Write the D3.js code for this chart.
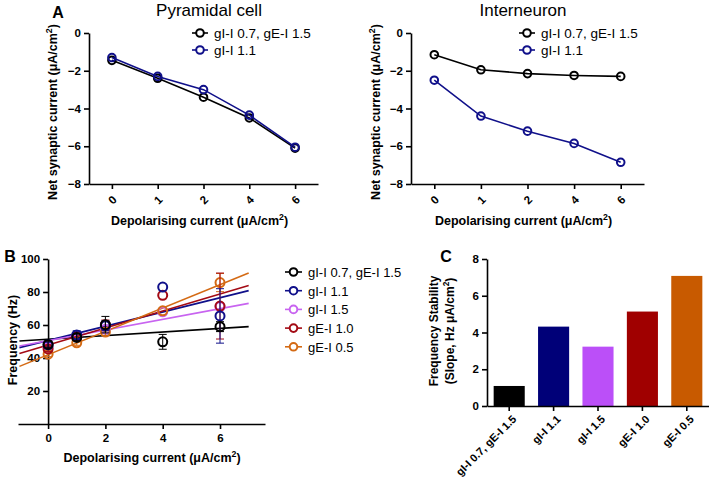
<!DOCTYPE html>
<html>
<head>
<meta charset="utf-8">
<script src="https://cdn.jsdelivr.net/npm/d3@7"></script>
<style>
  body { margin: 0; background: #fff; }
  svg { font-family: "Liberation Sans", Arial, sans-serif; }
  .tick text { font-weight: bold; }
</style>
</head>
<body>
<svg id="canvas" width="709" height="479"></svg>
<script>
// panel A data
let currentCats = ['0', '1', '2', '4', '6']
let seriesNames = ['gI-I 0.7, gE-I 1.5', 'gI-I 1.1', 'gI-I 1.5', 'gE-I 1.0', 'gE-I 0.5']
let pyramidalBlack = [-1.45, -2.4, -3.4, -4.5, -6.1]
let pyramidalBlue = [-1.3, -2.3, -3.0, -4.35, -6.05]
let interBlack = [-1.15, -1.95, -2.15, -2.25, -2.3]
let interBlue = [-2.5, -4.4, -5.2, -5.85, -6.85]

// panel B data
let depolX = [0, 1, 2, 4, 6]
let freqBlack = [48.2, 52.5, 60.2, 49.8, 59]
let freqBlue = [48, 54, 59.5, 83, 65.5]
let freqPink = [46.5, 53, 57.5, 68, 71]
let freqRed = [45.5, 53, 60, 78, 71.5]
let freqOrange = [42.3, 49.2, 55.7, 68.6, 85.7]
let errBlack = [2, 2, 5, 4.5, 3]
let errBlue = [1.5, 2.5, 3, 0, 16.5]
let errPink = [0, 0, 0, 0, 0]
let errRed = [1.5, 2, 3, 0, 20]
let errOrange = [1.5, 1.5, 2, 0, 5.5]
let fitIntercept = [51.4, 50.6, 50.5, 47.9, 42]
let fitRange = [-1, 7]

// panel C data (slopes)
let slopes = [1.09, 4.32, 3.23, 5.14, 7.08]

let black = '#000000'
let blue = '#10108a'
let pink = '#c864f0'
let red = '#a30a14'
let orange = '#d46a14'
let barColors = ['#000000', '#000078', '#bb4ff8', '#a00000', '#c85a00']

let canvas = d3.select('#canvas')

let addText = (g, x, y, txt, size, opts) => {
  opts = opts || {}
  let t = g.append('text')
    .attr('x', x).attr('y', y)
    .attr('font-size', size)
    .attr('font-weight', opts.bold ? 'bold' : 'normal')
    .attr('text-anchor', opts.anchor || 'middle')
    .attr('fill', '#000')
  if (txt) t.text(txt)
  if (opts.rotate) t.attr('transform', 'rotate(' + opts.rotate + ',' + x + ',' + y + ')')
  return t
}

let unitLabel = (t, before) => {
  t.append('tspan').text(before + '(μA/cm')
  t.append('tspan').attr('baseline-shift', 'super').attr('font-size', '0.7em').text('2')
  t.append('tspan').text(')')
}

let styleAxis = (g) => {
  g.selectAll('path, line').attr('stroke', '#000').attr('stroke-width', 1.6)
  g.selectAll('text').attr('font-size', 11.5).attr('font-family', null)
}

let drawPanelA = (left, right, title, titleX, blackVals, blueVals, legendX, yLabelX) => {
  let g = canvas.append('g')
  let x = d3.scalePoint().domain(currentCats).range([left, right]).padding(0.5)
  let y = d3.scaleLinear().domain([-8, 0]).range([184, 33])

  let yAxis = g.append('g').attr('transform', 'translate(' + left + ',0)')
    .call(d3.axisLeft(y).tickValues([0, -2, -4, -6, -8]).tickSize(5).tickSizeOuter(0))
  styleAxis(yAxis)

  let xAxis = g.append('g').attr('transform', 'translate(0,184)')
    .call(d3.axisBottom(x).tickSize(5).tickSizeOuter(0))
  styleAxis(xAxis)
  xAxis.selectAll('.tick text')
    .attr('y', 0).attr('dy', 0)
    .attr('transform', 'translate(0,16) rotate(-45)')
    .attr('text-anchor', 'middle')
    .attr('dominant-baseline', 'central')

  addText(g, titleX, 16, title, 17)

  let series = [[blackVals, black], [blueVals, blue]]
  series.forEach((s) => {
    let line = d3.line().x((d, i) => x(currentCats[i])).y((d) => y(d))
    g.append('path').attr('d', line(s[0])).attr('fill', 'none')
      .attr('stroke', s[1]).attr('stroke-width', 1.6)
    g.selectAll(null).data(s[0]).enter().append('circle')
      .attr('cx', (d, i) => x(currentCats[i])).attr('cy', (d) => y(d))
      .attr('r', 3.8).attr('fill', 'none').attr('stroke', s[1]).attr('stroke-width', 2)
  })

  // legend
  series.forEach((s, i) => {
    let ly = 33 + i * 17
    g.append('line').attr('x1', legendX - 8).attr('x2', legendX + 8)
      .attr('y1', ly).attr('y2', ly).attr('stroke', s[1]).attr('stroke-width', 1.6)
    g.append('circle').attr('cx', legendX).attr('cy', ly).attr('r', 3.8)
      .attr('fill', '#fff').attr('stroke', s[1]).attr('stroke-width', 2)
    addText(g, legendX + 14, ly + 5, seriesNames[i], 13.5, { anchor: 'start' })
  })

  let yl = addText(g, yLabelX, 112, '', 12.5, { bold: true, rotate: -90 })
  unitLabel(yl, 'Net synaptic current ')
  let xl = addText(g, (left + right) / 2 - 4, 225, '', 12.5, { bold: true })
  unitLabel(xl, 'Depolarising current ')
}

drawPanelA(89, 318, 'Pyramidal cell', 209, pyramidalBlack, pyramidalBlue, 200, 57)
drawPanelA(411, 644, 'Interneuron', 523, interBlack, interBlue, 527, 380)
addText(canvas, 58, 18, 'A', 16, { bold: true })

// panel B
let drawPanelB = () => {
  let g = canvas.append('g')
  let x = d3.scaleLinear().domain([-1.05, 7.57]).range([18, 265])
  let y = d3.scaleLinear().domain([0, 100]).range([424, 259])

  let xAxis = g.append('g').attr('transform', 'translate(0,424)')
    .call(d3.axisBottom(x).tickValues([0, 2, 4, 6]).tickSize(5).tickSizeOuter(0))
  styleAxis(xAxis)
  xAxis.selectAll('.tick text').attr('y', 10)

  let yAxis = g.append('g').attr('transform', 'translate(' + x(0) + ',0)')
    .call(d3.axisLeft(y).tickValues([20, 40, 60, 80, 100]).tickSize(5).tickSizeOuter(0))
  styleAxis(yAxis)

  let colors = [black, blue, pink, red, orange]
  let vals = [freqBlack, freqBlue, freqPink, freqRed, freqOrange]
  let errs = [errBlack, errBlue, errPink, errRed, errOrange]

  // fit lines
  colors.forEach((c, k) => {
    let fit = d3.line().x((d) => x(d)).y((d) => y(fitIntercept[k] + slopes[k] * d))
    g.append('path').attr('d', fit(fitRange)).attr('fill', 'none')
      .attr('stroke', c).attr('stroke-width', 1.6)
  })

  // error bars + points, pink underneath
  let order = [2, 4, 3, 1, 0]
  order.forEach((k) => {
    let c = colors[k]
    vals[k].forEach((v, i) => {
      let e = errs[k][i]
      if (e > 0) {
        let cx = x(depolX[i])
        g.append('line').attr('x1', cx).attr('x2', cx).attr('y1', y(v - e)).attr('y2', y(v + e))
          .attr('stroke', c).attr('stroke-width', 1)
        ;[v - e, v + e].forEach((yy) => {
          g.append('line').attr('x1', cx - 4).attr('x2', cx + 4).attr('y1', y(yy)).attr('y2', y(yy))
            .attr('stroke', c).attr('stroke-width', 1)
        })
      }
    })
    g.selectAll(null).data(vals[k]).enter().append('circle')
      .attr('cx', (d, i) => x(depolX[i])).attr('cy', (d) => y(d))
      .attr('r', 4.5).attr('fill', 'none').attr('stroke', c).attr('stroke-width', 2)
  })

  // legend
  colors.forEach((c, i) => {
    let ly = 272 + i * 18.7
    g.append('line').attr('x1', 285).attr('x2', 302).attr('y1', ly).attr('y2', ly)
      .attr('stroke', c).attr('stroke-width', 1.6)
    g.append('circle').attr('cx', 293.5).attr('cy', ly).attr('r', 3.8)
      .attr('fill', '#fff').attr('stroke', c).attr('stroke-width', 2)
    addText(g, 308, ly + 5, seriesNames[i], 13, { anchor: 'start' })
  })

  addText(g, 17, 340, 'Frequency (Hz)', 12.5, { bold: true, rotate: -90 })
  let xl = addText(g, 152, 462, '', 12.5, { bold: true })
  unitLabel(xl, 'Depolarising current ')
  addText(g, 10, 262, 'B', 16, { bold: true })
}
drawPanelB()

// panel C
let drawPanelC = () => {
  let g = canvas.append('g')
  let x = d3.scaleBand().domain(seriesNames).range([487, 709]).paddingInner(0.3).paddingOuter(0.15)
  let y = d3.scaleLinear().domain([0, 8]).range([406, 259])

  g.selectAll('rect').data(slopes).enter().append('rect')
    .attr('x', (d, i) => x(seriesNames[i])).attr('y', (d) => y(d))
    .attr('width', x.bandwidth()).attr('height', (d) => y(0) - y(d))
    .attr('fill', (d, i) => barColors[i])

  let yAxis = g.append('g').attr('transform', 'translate(487,0)')
    .call(d3.axisLeft(y).tickValues([0, 2, 4, 6, 8]).tickSize(5).tickSizeOuter(0))
  styleAxis(yAxis)

  let xAxis = g.append('g').attr('transform', 'translate(0,406)')
    .call(d3.axisBottom(x).tickSize(5).tickSizeOuter(0))
  styleAxis(xAxis)
  xAxis.selectAll('.tick text')
    .attr('font-size', 11)
    .attr('y', 0).attr('dy', 0)
    .attr('text-anchor', 'end')
    .attr('transform', 'translate(5,11) rotate(-45)')
    .attr('dominant-baseline', 'central')

  addText(g, 438, 331, 'Frequency Stability', 12, { bold: true, rotate: -90 })
  let yl2 = addText(g, 454, 331, '', 12, { bold: true, rotate: -90 })
  yl2.append('tspan').text('(Slope, Hz μA/cm')
  yl2.append('tspan').attr('baseline-shift', 'super').attr('font-size', '0.7em').text('2')
  yl2.append('tspan').text(')')
  addText(g, 446, 262, 'C', 16, { bold: true })
}
drawPanelC()
</script>
</body>
</html>
